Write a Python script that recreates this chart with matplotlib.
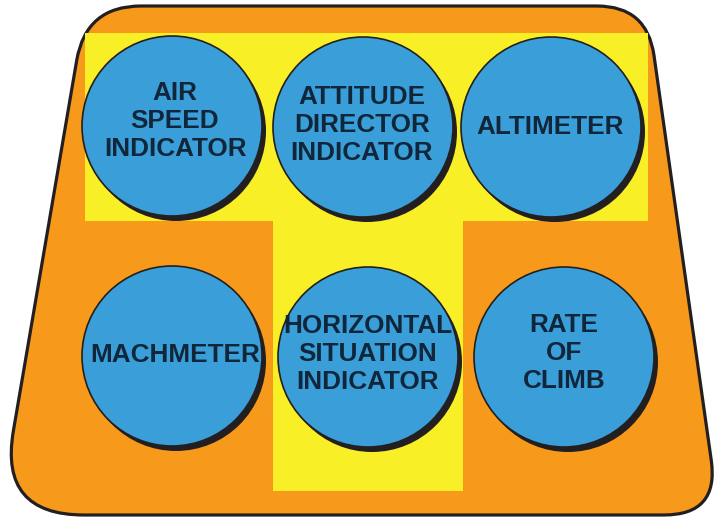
import matplotlib
matplotlib.use("Agg")
import matplotlib.pyplot as plt
import numpy as np
from matplotlib.path import Path
from matplotlib.patches import PathPatch, Circle, Rectangle

# instrument labels, top row then bottom row
labels_top = ["AIR\nSPEED\nINDICATOR", "ATTITUDE\nDIRECTOR\nINDICATOR", "ALTIMETER"]
labels_bottom = ["MACHMETER", "HORIZONTAL\nSITUATION\nINDICATOR", "RATE\nOF\nCLIMB"]

# circle centres (pixel space, y down)
centres_top = [(172, 126), (363, 127), (551, 127)]
centres_bottom = [(172, 356), (368, 357), (564, 357)]
text_top = [(175, 121), (362, 125), (550, 127)]
text_bottom = [(175, 355), (368, 354), (564, 353)]

ORANGE = "#F79A1B"
YELLOW = "#F8EF27"
BLUE = "#3A9FD8"
DARK = "#231F20"
TEXT = "#10263A"
R = 90


def rounded_poly(pts, radii):
    verts, codes = [], []
    n = len(pts)
    for i in range(n):
        p = np.array(pts[i], float)
        prev = np.array(pts[i - 1], float)
        nxt = np.array(pts[(i + 1) % n], float)
        r = radii[i]
        a = p + (prev - p) / np.linalg.norm(prev - p) * r
        b = p + (nxt - p) / np.linalg.norm(nxt - p) * r
        verts.append(a)
        codes.append(Path.MOVETO if i == 0 else Path.LINETO)
        verts += [p, b]
        codes += [Path.CURVE3, Path.CURVE3]
    verts.append(verts[0])
    codes.append(Path.CLOSEPOLY)
    return Path(verts, codes)


fig = plt.figure(figsize=(7.17, 5.19), dpi=100)
ax = fig.add_axes([0, 0, 1, 1])
ax.set_xlim(0, 717)
ax.set_ylim(519, 0)
ax.axis('off')

# panel outline
panel = rounded_poly([(86, 6), (647, 6), (719, 515), (-1, 515)], [55, 50, 55, 85])
ax.add_patch(PathPatch(panel, facecolor=ORANGE, edgecolor=DARK, lw=2.3, zorder=1))

# yellow T
ax.add_patch(Rectangle((85, 33), 563, 188, facecolor=YELLOW, edgecolor='none', zorder=2))
ax.add_patch(Rectangle((273, 220), 190, 271, facecolor=YELLOW, edgecolor='none', zorder=2))

for (cx, cy), (tx, ty), lab in zip(centres_top + centres_bottom, text_top + text_bottom,
                                   labels_top + labels_bottom):
    ax.add_patch(Circle((cx + 4, cy + 5), R, facecolor=DARK, edgecolor='none', zorder=3))
    ax.add_patch(Circle((cx, cy), R, facecolor=BLUE, edgecolor=DARK, lw=1.2, zorder=4))
    ax.text(tx, ty, lab, ha='center', va='center', fontsize=18.8, fontweight='bold',
            family=['Liberation Sans', 'DejaVu Sans'], color=TEXT, linespacing=1.2, zorder=5)

fig.savefig("out.png", dpi=100, facecolor='white')
